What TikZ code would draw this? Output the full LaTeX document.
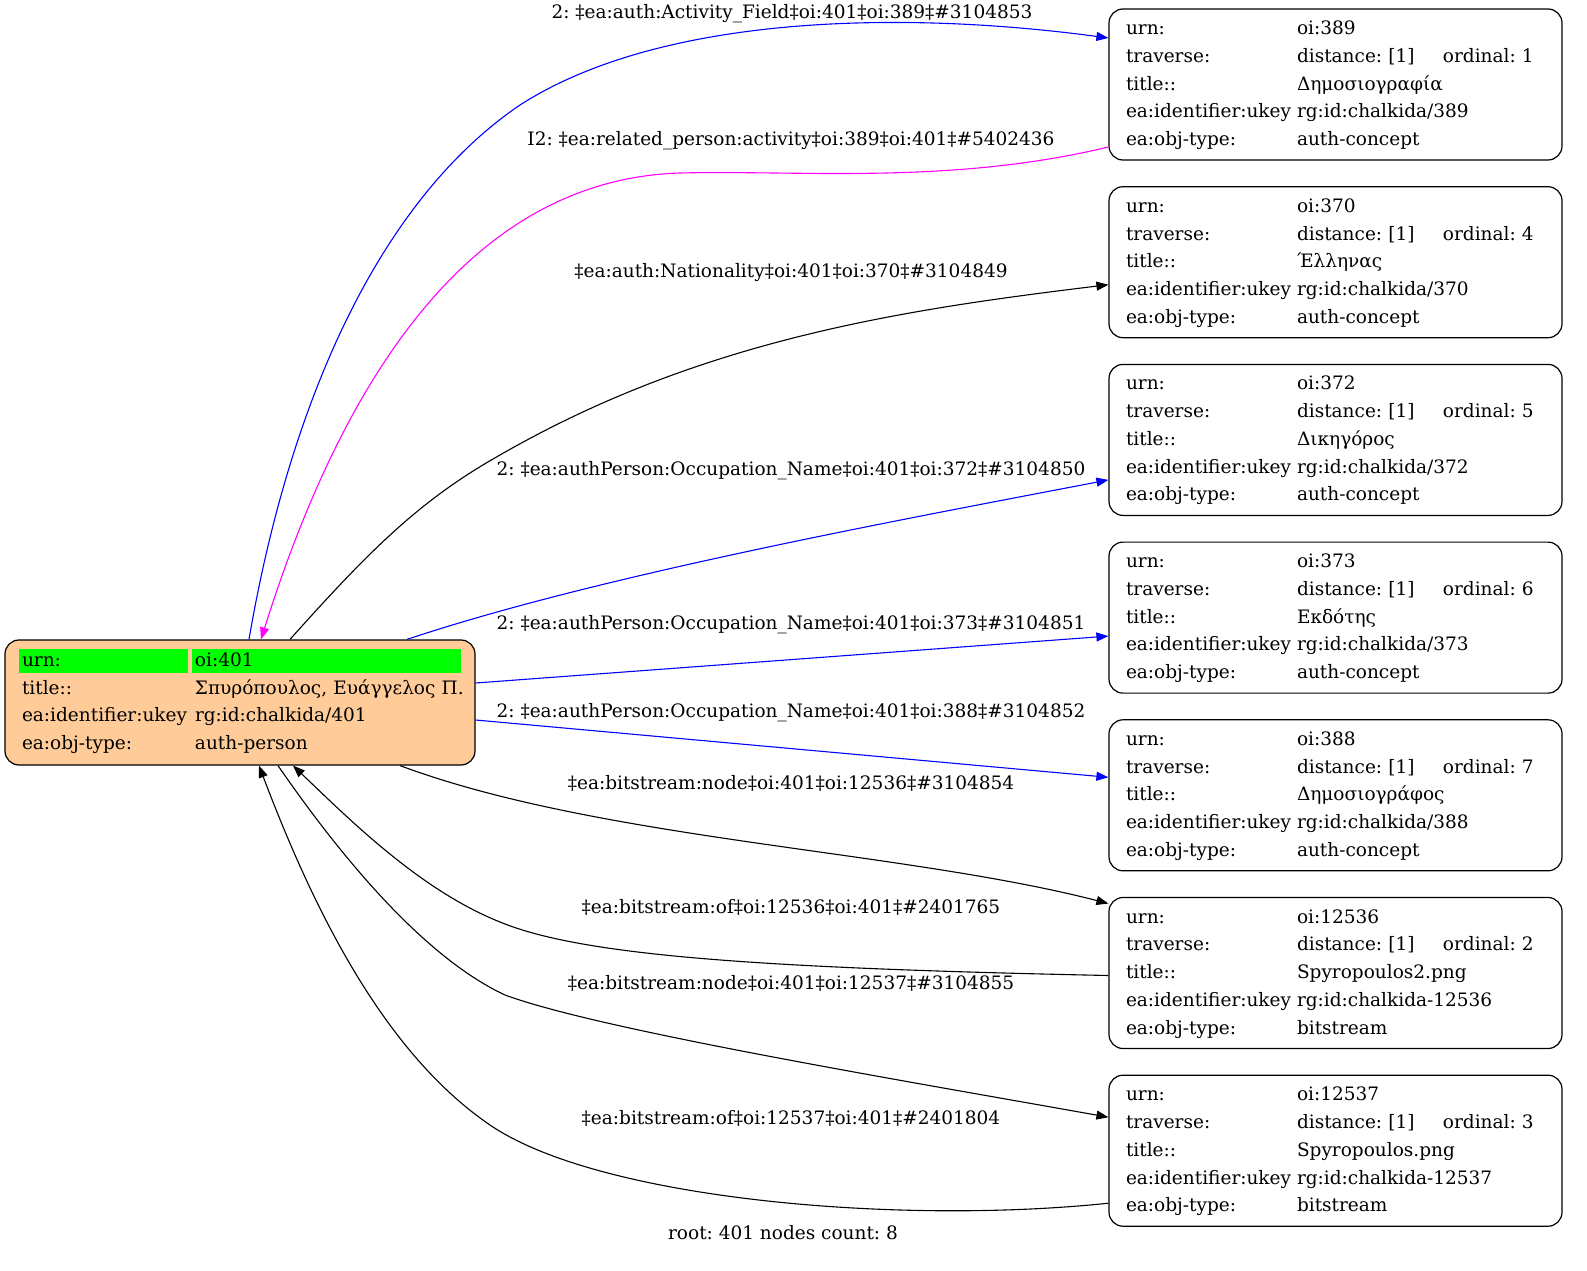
\documentclass[tikz,border=0pt]{standalone}
\usepackage{fontspec}
\setmainfont{DejaVu Serif}
\usetikzlibrary{positioning}
\usetikzlibrary{arrows.meta}
\definecolor{rootfill}{HTML}{FFCC99}
\definecolor{rootgreen}{HTML}{00FF00}
\definecolor{linkblue}{RGB}{0,0,255}
\definecolor{linkpink}{RGB}{255,0,255}
\frenchspacing

% one record table: urn, ordinal, title, ukey, type
\newcommand{\objrec}[5]{%
\begin{tabular}{@{}l@{}l@{}}
\makebox[171pt][l]{urn:} & oi:#1\\
\makebox[171pt][l]{traverse:} & \makebox[146pt][l]{distance: [1]}ordinal: #2\\
\makebox[171pt][l]{title::} & #3\\
\makebox[171pt][l]{ea:identifier:ukey} & #4\\
\makebox[171pt][l]{ea:obj-type:} & #5
\end{tabular}}

% root record, first row highlighted
\newcommand{\rootrec}{%
\setlength{\fboxsep}{3pt}%
\begin{tabular}{@{}l@{}l@{}}
\colorbox{rootgreen}{\rule[-4pt]{0pt}{18pt}\makebox[163pt][l]{urn:}}\hspace{4pt} &
\colorbox{rootgreen}{\rule[-4pt]{0pt}{18pt}\makebox[263pt][l]{oi:401}}\\
\makebox[173pt][l]{\hspace{3pt}title::} & \hspace{3pt}Σπυρόπουλος, Ευάγγελος Π.\\
\makebox[173pt][l]{\hspace{3pt}ea:identifier:ukey} & \hspace{3pt}rg:id:chalkida/401\\
\makebox[173pt][l]{\hspace{3pt}ea:obj-type:} & \hspace{3pt}auth-person
\end{tabular}}

\tikzset{node distance=25.5pt,
every node/.style={font=\fontsize{18.5}{27.75}\selectfont},
recbox/.style={ % Sets the properties for each record
draw, rounded corners=14pt, line width=1.2pt,
text width=419pt, inner xsep=17pt,
minimum height=151pt, align=left},
rootbox/.style={recbox, fill=rootfill,
text width=442pt, inner xsep=14pt, minimum height=125pt},
edgelab/.style={inner sep=0pt}, % labels of the links
edgeline/.style={-{Triangle[length=12pt,width=9pt]}, line width=1.1pt},
blueedge/.style={edgeline, linkblue},
pinkedge/.style={edgeline, linkpink},
blackedge/.style={edgeline, black}}

\begin{document}
\begin{tikzpicture}[x=1pt,y=-1pt]
\useasboundingbox (0,0) rectangle (1587,1271);

\node[rootbox] (p401) at (240,702.5) {\rootrec};

\node[recbox] (n389) at (1335.5,84.5) {\objrec{389}{1}{Δημοσιογραφία}{rg:id:chalkida/389}{auth-concept}};
\node[recbox, below=of n389] (n370) {\objrec{370}{4}{Έλληνας}{rg:id:chalkida/370}{auth-concept}};
\node[recbox, below=of n370] (n372) {\objrec{372}{5}{Δικηγόρος}{rg:id:chalkida/372}{auth-concept}};
\node[recbox, below=of n372] (n373) {\objrec{373}{6}{Εκδότης}{rg:id:chalkida/373}{auth-concept}};
\node[recbox, below=of n373] (n388) {\objrec{388}{7}{Δημοσιογράφος}{rg:id:chalkida/388}{auth-concept}};
\node[recbox, below=of n388] (n12536) {\objrec{12536}{2}{Spyropoulos2.png}{rg:id:chalkida-12536}{bitstream}};
\node[recbox, below=of n12536] (n12537) {\objrec{12537}{3}{Spyropoulos.png}{rg:id:chalkida-12537}{bitstream}};

% links
\draw[blueedge] ([xshift=9pt]p401.north) .. controls (290,400) and (380,200) .. (520,105)
  .. controls (660,15) and (900,10) .. ([yshift=46.5pt]n389.west);
\draw[pinkedge] ([yshift=-62.5pt]n389.west) .. controls (950,185) and (800,170) .. (680,173)
  .. controls (450,180) and (330,420) .. ([xshift=21pt]p401.north);
\draw[blackedge] ([xshift=50pt]p401.north) .. controls (370,550) and (420,500) .. (500,455)
  .. controls (700,340) and (900,310) .. ([yshift=-22.5pt]n370.west);
\draw[blueedge] ([xshift=167pt]p401.north) .. controls (600,575) and (900,520) .. ([yshift=-40pt]n372.west);
\draw[blueedge] ([yshift=19.5pt]p401.east) -- ([yshift=-18.5pt]n373.west);
\draw[blueedge] ([yshift=-17.5pt]p401.east) -- ([yshift=18pt]n388.west);
\draw[blackedge] ([xshift=160pt]p401.south) .. controls (600,840) and (900,850) .. ([yshift=69.5pt]n12536.west);
\draw[blackedge] ([yshift=-2.5pt]n12536.west) .. controls (750,968) and (580,955) .. (500,922)
  .. controls (420,890) and (350,820) .. ([xshift=53pt]p401.south);
\draw[blackedge] ([xshift=38pt]p401.south) .. controls (350,870) and (430,960) .. (505,995)
  .. controls (600,1030) and (900,1080) .. ([yshift=33.5pt]n12537.west);
\draw[blackedge] ([yshift=-52.5pt]n12537.west) .. controls (900,1225) and (600,1200) .. (490,1125)
  .. controls (380,1050) and (310,900) .. ([xshift=19pt]p401.south);

% link labels
\node[edgelab] (l389a) at (792,14) {2: ‡ea:auth:Activity\_Field‡oi:401‡oi:389‡\#3104853};
\node[edgelab] (l389b) at (791,141) {I2: ‡ea:related\_person:activity‡oi:389‡oi:401‡\#5402436};
\node[edgelab] (l370) at (791,273) {‡ea:auth:Nationality‡oi:401‡oi:370‡\#3104849};
\node[edgelab] (l372) at (791,471) {2: ‡ea:authPerson:Occupation\_Name‡oi:401‡oi:372‡\#3104850};
\node[edgelab] (l373) at (791,625) {2: ‡ea:authPerson:Occupation\_Name‡oi:401‡oi:373‡\#3104851};
\node[edgelab] (l388) at (791,713) {2: ‡ea:authPerson:Occupation\_Name‡oi:401‡oi:388‡\#3104852};
\node[edgelab] (l12536a) at (791,783) {‡ea:bitstream:node‡oi:401‡oi:12536‡\#3104854};
\node[edgelab] (l12536b) at (791,907) {‡ea:bitstream:of‡oi:12536‡oi:401‡\#2401765};
\node[edgelab] (l12537a) at (791,983) {‡ea:bitstream:node‡oi:401‡oi:12537‡\#3104855};
\node[edgelab] (l12537b) at (791,1118) {‡ea:bitstream:of‡oi:12537‡oi:401‡\#2401804};

\node[edgelab] (footer) at (783,1233) {root: 401 nodes count: 8};
\end{tikzpicture}
\end{document}
